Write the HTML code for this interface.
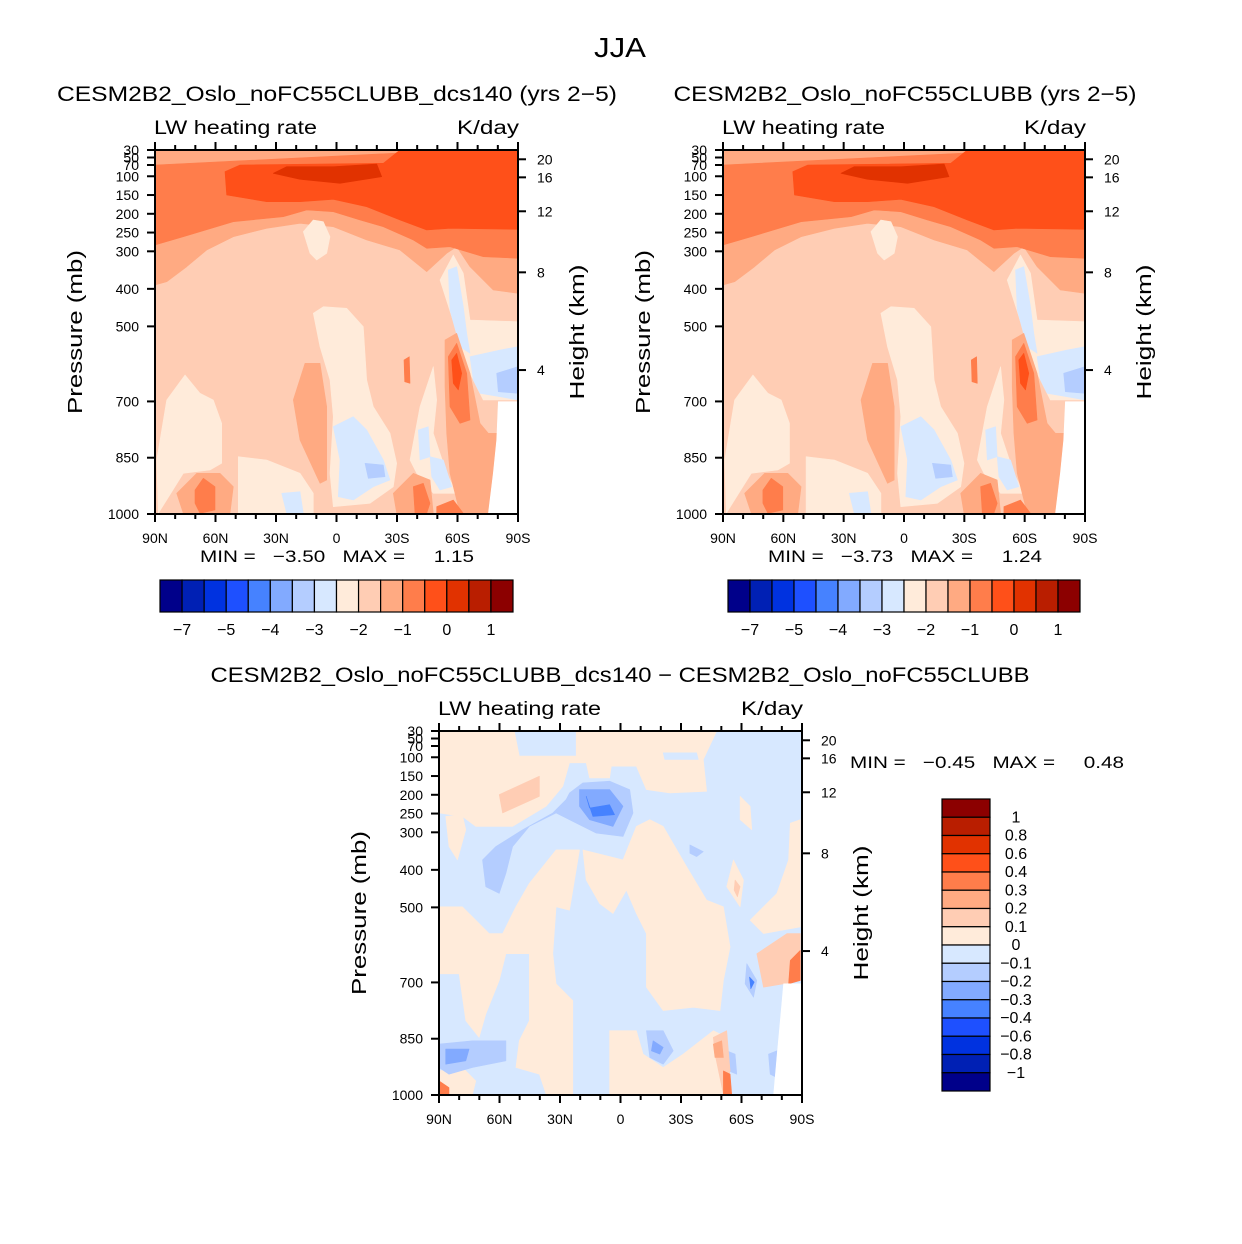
<!DOCTYPE html>
<html><head><meta charset="utf-8">
<style>
html,body{margin:0;padding:0;background:#fff;}
svg{display:block;font-family:"Liberation Sans",Arial,sans-serif;}
</style></head>
<body>
<svg id="fig" width="1242" height="1244" viewBox="0 0 1242 1244" xmlns="http://www.w3.org/2000/svg">
<text x="620" y="57" font-size="28" text-anchor="middle" textLength="52" lengthAdjust="spacingAndGlyphs">JJA</text>
</svg>
<script>
// ---- data ----
const palette = ["#00008A","#0020B4","#0032E0","#1E50FF","#4682FF","#82AAFF","#B4CDFF","#D7E8FF","#FFEBDA","#FFCDB4","#FFAA82","#FF7D4B","#FF5019","#E13200","#B91E00","#8C0000"];
const topLevelLabels = ["−7","−5","−4","−3","−2","−1","0","1"];
const diffLevelLabels = ["1","0.8","0.6","0.4","0.3","0.2","0.1","0","−0.1","−0.2","−0.3","−0.4","−0.6","−0.8","−1"];
const pressureTicks = [30,50,70,100,150,200,250,300,400,500,700,850,1000];
const heightTicks = [4,8,12,16,20];
const latMajor = [90,60,30,0,-30,-60,-90];
const latLabels = ["90N","60N","30N","0","30S","60S","90S"];
const panelTitles = ["CESM2B2_Oslo_noFC55CLUBB_dcs140 (yrs 2−5)","CESM2B2_Oslo_noFC55CLUBB (yrs 2−5)"];
const minVals = ["−3.50","−3.73","−0.45"];
const maxVals = ["1.15","1.24","0.48"];

const topShapes = [
 [10,[[165,30],[1254,30],[1254,460],[1180,450],[1110,380],[1070,320],[1040,340],[980,395],[900,330],[800,300],[700,260],[600,250],[500,265],[400,290],[320,330],[260,380],[200,425],[165,435]]],
 [11,[[165,75],[880,40],[1254,30],[1254,355],[1150,350],[1050,320],[980,325],[940,300],[850,260],[780,240],[700,215],[620,210],[550,230],[400,245],[250,290],[165,315]]],
 [12,[[375,95],[420,75],[850,70],[900,30],[1254,30],[1254,268],[1050,265],[980,270],[900,240],[800,200],[700,178],[600,185],[500,185],[380,165]]],
 [13,[[520,100],[560,80],[700,80],[830,72],[845,110],[720,130],[600,118]]],
 [8,[[610,275],[640,240],[670,245],[690,290],[680,340],[650,360],[630,340]]],
 [8,[[640,520],[670,500],[740,505],[790,560],[800,720],[820,800],[870,880],[890,970],[880,1040],[810,1090],[700,1100],[690,1000],[700,830],[690,720],[660,620]]],
 [8,[[170,960],[200,780],[255,705],[300,760],[340,780],[365,850],[365,970],[330,990],[250,1000],[200,1080],[175,1120]]],
 [8,[[415,950],[500,960],[600,1000],[640,1060],[640,1120],[415,1120]]],
 [8,[[930,960],[960,800],[1000,680],[1010,780],[1000,880],[1040,1000],[1070,1060],[1000,1060],[950,1000]]],
 [8,[[1020,420],[1060,345],[1090,400],[1110,540],[1254,545],[1254,780],[1150,780],[1110,700]]],
 [7,[[1045,390],[1070,380],[1090,500],[1100,580],[1110,640],[1080,620],[1050,510]]],
 [7,[[1110,650],[1200,630],[1254,620],[1254,780],[1200,770],[1140,760],[1120,720]]],
 [7,[[700,860],[760,830],[800,870],[850,960],[870,1020],[820,1040],[760,1080],[715,1070],[720,960]]],
 [7,[[545,1060],[600,1055],[610,1120],[560,1120]]],
 [7,[[955,870],[985,860],[990,950],[960,960]]],
 [7,[[990,950],[1030,960],[1055,1040],[1020,1050],[995,1010]]],
 [6,[[795,970],[850,975],[855,1010],[805,1015]]],
 [6,[[1190,700],[1254,680],[1254,760],[1195,755]]],
 [10,[[580,780],[615,670],[660,670],[680,800],[680,1020],[660,1030],[600,900]]],
 [10,[[1035,600],[1070,580],[1110,700],[1140,850],[1165,880],[1254,880],[1254,1120],[1080,1120],[1050,1000],[1040,880],[1035,740]]],
 [10,[[230,1060],[290,1000],[360,1000],[400,1040],[390,1120],[250,1120]]],
 [10,[[880,1060],[940,1000],[990,1020],[1000,1120],[890,1120]]],
 [11,[[1045,650],[1070,610],[1100,700],[1110,840],[1080,850],[1050,800]]],
 [11,[[285,1050],[310,1015],[345,1040],[345,1110],[300,1120],[285,1090]]],
 [11,[[940,1040],[970,1030],[990,1090],[980,1120],[945,1120]]],
 [11,[[1010,1100],[1060,1080],[1090,1120],[1010,1120]]],
 [12,[[1055,660],[1070,640],[1085,700],[1075,750],[1060,730]]],
 [11,[[912,660],[928,650],[930,730],[914,725]]],
 [-1,[[1195,785],[1254,785],[1254,1122],[1165,1122],[1180,1000],[1190,900]]]
];
const diffShapes = [
 [8,[[30,35],[255,35],[270,110],[440,110],[440,35],[860,35],[820,120],[830,215],[720,220],[650,210],[620,140],[545,140],[540,175],[480,175],[470,130],[420,130],[400,200],[350,260],[250,320],[140,320],[100,290],[30,280]]],
 [7,[[700,100],[800,100],[805,120],[705,120]]],
 [8,[[50,290],[100,285],[110,330],[85,420],[60,380]]],
 [8,[[30,560],[100,560],[180,640],[220,640],[260,560],[300,490],[380,390],[450,390],[440,450],[420,570],[380,560],[370,700],[380,790],[430,840],[430,1120],[350,1120],[330,1060],[260,1040],[270,960],[300,900],[300,700],[230,700],[210,780],[170,880],[150,950],[110,900],[90,760],[30,760]]],
 [8,[[460,390],[580,420],[620,320],[660,300],[700,320],[770,440],[830,540],[880,560],[900,680],[880,780],[870,870],[790,860],[700,870],[650,800],[650,640],[620,580],[590,510],[550,580],[510,550],[470,480]]],
 [8,[[1080,310],[1110,300],[1110,620],[1000,640],[960,600],[1040,520],[1075,420]]],
 [8,[[540,930],[620,930],[640,1000],[700,1040],[760,1000],[850,930],[890,950],[880,1120],[540,1120]]],
 [8,[[910,420],[940,480],[930,560],[890,500]]],
 [8,[[930,230],[960,260],[965,330],[930,300]]],
 [8,[[30,1050],[100,1040],[140,1080],[130,1120],[30,1120]]],
 [6,[[420,220],[460,190],[540,185],[600,210],[610,280],[580,350],[500,340],[440,310],[380,280],[300,320],[250,380],[230,460],[210,520],[170,500],[160,420],[200,380],[280,330],[370,280],[410,240]]],
 [6,[[30,970],[130,960],[230,960],[230,1020],[130,1040],[60,1060],[30,1040]]],
 [6,[[650,930],[700,930],[730,990],[700,1030],[660,1010]]],
 [6,[[950,730],[980,780],[970,830],[945,790]]],
 [6,[[780,375],[820,395],[800,410],[780,400]]],
 [6,[[1015,1000],[1040,990],[1040,1070],[1020,1060]]],
 [6,[[890,990],[915,1000],[920,1060],[895,1050]]],
 [5,[[450,210],[540,210],[580,260],[550,320],[480,300],[450,260]]],
 [5,[[50,985],[120,985],[110,1020],[50,1030]]],
 [5,[[670,960],[700,980],[690,1000],[665,990]]],
 [4,[[470,230],[480,265],[540,255],[555,285],[490,290]]],
 [4,[[958,770],[972,785],[962,805]]],
 [9,[[210,225],[330,170],[330,230],[220,280]]],
 [9,[[980,700],[1070,640],[1110,640],[1110,780],[1060,790],[1000,800]]],
 [9,[[850,950],[890,930],[900,1050],[880,1120],[855,1000]]],
 [9,[[915,480],[930,500],[922,530],[912,510]]],
 [10,[[850,970],[875,960],[880,1010],[855,1010]]],
 [11,[[1080,720],[1110,690],[1110,780],[1075,790]]],
 [11,[[880,1050],[900,1060],[905,1120],[880,1120]]],
 [11,[[30,1080],[60,1100],[60,1120],[30,1120]]],
 [-1,[[1060,790],[1115,790],[1115,1122],[1030,1122],[1040,1010],[1050,900]]]
];

const NS="http://www.w3.org/2000/svg";
const svg=document.getElementById('fig');
function mk(tag,attrs,parent){const e=document.createElementNS(NS,tag);for(const k in attrs)e.setAttribute(k,attrs[k]);(parent||svg).appendChild(e);return e;}
function txt(x,y,s,size,anchor,parent,len){const t=mk('text',{x:x,y:y,'font-size':size,'text-anchor':anchor||'start'},parent);if(len){t.setAttribute('textLength',len);t.setAttribute('lengthAdjust','spacingAndGlyphs');}t.textContent=s;return t;}
function heightToP(z){const m=z*1000;if(m<=11000)return 1013.25*Math.pow(1-2.2558e-5*m,5.2559);return 226.32*Math.exp(-(m-11000)/6341.6);}

function panel(ox,oy,W,H,shapes,zx0,zx1,zy0,zy1,base,name){
 const g=mk('g',{});
 
 
 const xLat=lat=>ox+(90-lat)/180*W;
 const yP=p=>oy+(p-30)/970*H;
 const zx=v=>ox+(v-zx0)/(zx1-zx0)*W;
 const zy=v=>oy+(v-zy0)/(zy1-zy0)*H;
 const bg=mk('rect',{x:ox,y:oy,width:W,height:H,fill:palette[base]},g);
 
 
 shapes.forEach(s=>{
  const col=s[0]<0?'#ffffff':palette[s[0]];
  const p=mk('polygon',{points:s[1].map(q=>zx(q[0]).toFixed(1)+','+zy(q[1]).toFixed(1)).join(' '),fill:col,stroke:col,'stroke-width':0.6,'stroke-linejoin':'round'},g);
  
  
 });
 const fr=mk('rect',{x:ox,y:oy,width:W,height:H,fill:'none',stroke:'#000','stroke-width':2},g);
 
 
 for(let lat=90;lat>=-90;lat-=10){
  const x=xLat(lat),len=(lat%30===0)?8:5;
  mk('line',{x1:x,y1:oy+H,x2:x,y2:oy+H+len,stroke:'#000','stroke-width':2},g);
  mk('line',{x1:x,y1:oy,x2:x,y2:oy-len,stroke:'#000','stroke-width':2},g);
 }
 latMajor.forEach((lat,i)=>{const t=txt(xLat(lat),oy+H+29,latLabels[i],14,'middle',g);
  });
 pressureTicks.forEach(p=>{const y=yP(p);
  mk('line',{x1:ox,y1:y,x2:ox-8,y2:y,stroke:'#000','stroke-width':2},g);
  const t=txt(ox-16,y+5,String(p),14,'end',g);
  });
 heightTicks.forEach(z=>{const y=yP(heightToP(z));
  mk('line',{x1:ox+W,y1:y,x2:ox+W+8,y2:y,stroke:'#000','stroke-width':2},g);
  const t=txt(ox+W+19,y+5,String(z),14,'start',g);
  });
 const yl=txt(0,0,'Pressure (mb)',20,'middle',g,164);
 yl.setAttribute('transform','translate('+(ox-73)+','+(oy+H/2)+') rotate(-90)');
 
 const hl=txt(0,0,'Height (km)',20,'middle',g,135);
 hl.setAttribute('transform','translate('+(ox+W+66)+','+(oy+H/2)+') rotate(-90)');
 
 const l1=txt(ox-1,oy-16,'LW heating rate',19,'start',g,163);
 
 const l2=txt(ox+W+1,oy-16,'K/day',19,'end',g,62);
 
 return g;
}

function hbar(x0,y0,W,H,name){
 const g=mk('g',{});
 
 const bw=W/palette.length;
 palette.forEach((c,i)=>{const r=mk('rect',{x:x0+i*bw,y:y0,width:bw,height:H,fill:c,stroke:'#000','stroke-width':1.2},g);
  });
 topLevelLabels.forEach((s,i)=>{const t=txt(x0+(2*i+1)*bw,y0+H+23,s,16,'middle',g);
  });
}

function minmax(x,y,i,anchor){
 const t=txt(x,y,'MIN =   '+minVals[i]+'   MAX =     '+maxVals[i],17,anchor,null,274);
 t.setAttribute('xml:space','preserve');t.style.whiteSpace='pre';
 
}

panel(155,150,363,364,topShapes,165,1254,30,1122,9,'panel-dcs140');
let t=txt(337,101,panelTitles[0],21,'middle',null,560);
minmax(337,562,0,'middle');
hbar(160,580,353,32,'colorbar-left');
panel(723,150,362,364,topShapes,165,1254,30,1122,9,'panel-control');
t=txt(905,101,panelTitles[1],21,'middle',null,463);
minmax(905,562,1,'middle');
hbar(728,580,352,32,'colorbar-right');
panel(439,731,363,364,diffShapes,30,1115,35,1122,7,'panel-difference');
t=txt(620,682,'CESM2B2_Oslo_noFC55CLUBB_dcs140 − CESM2B2_Oslo_noFC55CLUBB',21,'middle',null,819);
minmax(850,768,2,'start');
(function(){
 const g=mk('g',{});
 
 const x0=942,y0=799,W=48,H=292,bh=H/palette.length;
 palette.slice().reverse().forEach((c,i)=>{const r=mk('rect',{x:x0,y:y0+i*bh,width:W,height:bh,fill:c,stroke:'#000','stroke-width':1.2},g);
  });
 diffLevelLabels.forEach((s,i)=>{const tt=txt(1016,y0+(i+1)*bh+5,s,16,'middle',g);
  });
})();
</script>
</body></html>
